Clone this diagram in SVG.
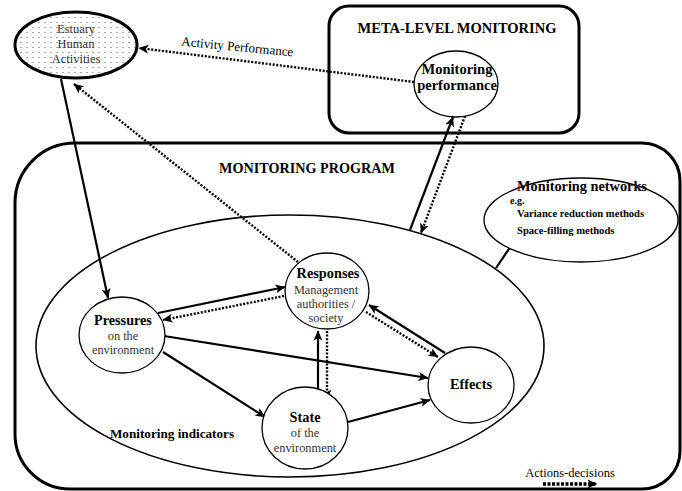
<svg xmlns="http://www.w3.org/2000/svg" width="682" height="491" viewBox="0 0 682 491">
<style>
text{font-family:"Liberation Serif","Times New Roman",serif;fill:#000}
.b{font-weight:bold}
.g{fill:#333}
.node{fill:#fff;stroke:#000;stroke-width:1.3}
.box{fill:none;stroke:#000;stroke-width:3}
.sol{fill:none;stroke:#000;stroke-width:2.2}
.dot{fill:none;stroke:#000;stroke-width:2.4;stroke-dasharray:2 1.6}
</style>
<defs>
<marker id="ah" viewBox="0 0 10 10" refX="9.5" refY="5" markerWidth="10" markerHeight="10" orient="auto" markerUnits="userSpaceOnUse">
<path d="M0,0.5 L10,5 L0,9.5 L2.5,5 Z" fill="#000" stroke="none"/>
</marker>
<pattern id="dots" width="6" height="5" patternUnits="userSpaceOnUse">
<rect width="6" height="5" fill="#fff"/>
<circle cx="3" cy="2.5" r="0.55" fill="#333"/>
</pattern>
</defs>

<g id="meta-box">
<rect class="box" x="329" y="6" width="250" height="127" rx="20"/>
<text class="b" x="457" y="33" font-size="14.5" text-anchor="middle">META-LEVEL MONITORING</text>
</g>

<g id="program-box">
<path class="box" d="M75,143 H642 A38,38 0 0 1 680,181 V451 A38,38 0 0 1 642,489 H70 A55,55 0 0 1 15,434 V203 A60,60 0 0 1 75,143 Z"/>
<text class="b" x="307" y="173" font-size="14.2" text-anchor="middle">MONITORING PROGRAM</text>
</g>

<g id="indicators">
<ellipse cx="290" cy="346" rx="254" ry="131" fill="none" stroke="#000" stroke-width="1.6"/>
<text class="b" x="172" y="438" font-size="13.2" text-anchor="middle">Monitoring indicators</text>
</g>

<g id="connectors">
<line class="dot" x1="414" y1="82" x2="139" y2="48" marker-end="url(#ah)"/>
<line class="dot" x1="298" y1="262" x2="74" y2="84" marker-end="url(#ah)"/>
<line class="sol" x1="61" y1="79" x2="108" y2="298" marker-end="url(#ah)"/>
<line class="sol" x1="410" y1="230" x2="453" y2="117" marker-end="url(#ah)"/>
<line class="dot" x1="465" y1="116" x2="421" y2="233" marker-end="url(#ah)"/>
<line class="sol" x1="496" y1="268" x2="511" y2="246" stroke-width="2.6"/>
<line class="sol" x1="158" y1="313" x2="285" y2="287" marker-end="url(#ah)"/>
<line class="dot" x1="284" y1="296" x2="163" y2="320" marker-end="url(#ah)"/>
<line class="sol" x1="164" y1="336" x2="428" y2="378" marker-end="url(#ah)"/>
<line class="sol" x1="163" y1="352" x2="265" y2="417" marker-end="url(#ah)"/>
<line class="sol" x1="318" y1="396" x2="318" y2="331" marker-end="url(#ah)"/>
<line class="dot" x1="327" y1="331" x2="327" y2="399" stroke-width="3" marker-end="url(#ah)"/>
<line class="sol" x1="348" y1="422" x2="430" y2="400" marker-end="url(#ah)"/>
<line class="sol" x1="445" y1="353" x2="369" y2="305" marker-end="url(#ah)"/>
<line class="dot" x1="366" y1="312" x2="438" y2="357" marker-end="url(#ah)"/>
</g>

<text x="237" y="51" font-size="13" text-anchor="middle" transform="rotate(5.5 237 51)">Activity Performance</text>

<g id="estuary">
<ellipse cx="76" cy="45" rx="61" ry="33" fill="url(#dots)" stroke="#000" stroke-width="3"/>
<text class="g" x="76" y="33" font-size="12.5" text-anchor="middle">Estuary</text>
<text class="g" x="76" y="48" font-size="12.5" text-anchor="middle">Human</text>
<text class="g" x="76" y="63" font-size="12.5" text-anchor="middle">Activities</text>
</g>

<g id="monitoring-performance">
<ellipse class="node" cx="456" cy="84" rx="42" ry="33"/>
<text class="b" x="457" y="74" font-size="14.5" text-anchor="middle">Monitoring</text>
<text class="b" x="457" y="90" font-size="14.5" text-anchor="middle">performance</text>
</g>

<g id="monitoring-networks">
<ellipse class="node" cx="581" cy="220" rx="97" ry="42"/>
<text class="b" x="582" y="191" font-size="14.3" text-anchor="middle">Monitoring networks</text>
<text class="b" x="510" y="204" font-size="10">e.g.</text>
<text class="b" x="517" y="217" font-size="10.6">Variance reduction methods</text>
<text class="b" x="517" y="234" font-size="10.6">Space-filling methods</text>
</g>

<g id="pressures">
<ellipse class="node" cx="122" cy="335" rx="43" ry="38"/>
<text class="b" x="123" y="325" font-size="14.2" text-anchor="middle">Pressures</text>
<text class="g" x="123" y="340" font-size="12.3" text-anchor="middle">on the</text>
<text class="g" x="123" y="354" font-size="12.3" text-anchor="middle">environment</text>
</g>

<g id="responses">
<ellipse class="node" cx="327" cy="291" rx="42" ry="38"/>
<text class="b" x="328" y="278" font-size="14.3" text-anchor="middle">Responses</text>
<text class="g" x="326" y="294" font-size="12.3" text-anchor="middle">Management</text>
<text class="g" x="326" y="308" font-size="12.3" text-anchor="middle">authorities /</text>
<text class="g" x="326" y="322" font-size="12.3" text-anchor="middle">society</text>
</g>

<g id="state">
<ellipse class="node" cx="305" cy="428" rx="43" ry="41"/>
<text class="b" x="305" y="422" font-size="14.3" text-anchor="middle">State</text>
<text class="g" x="305" y="437" font-size="12.4" text-anchor="middle">of the</text>
<text class="g" x="305" y="452" font-size="12.4" text-anchor="middle">environment</text>
</g>

<g id="effects">
<ellipse class="node" cx="471" cy="385" rx="43" ry="38"/>
<text class="b" x="471" y="389" font-size="14.3" text-anchor="middle">Effects</text>
</g>

<g id="legend">
<text x="570" y="477" font-size="12.5" text-anchor="middle">Actions-decisions</text>
<line x1="543" y1="484" x2="597" y2="484" stroke="#000" stroke-width="3.5" stroke-dasharray="3 1.5" marker-end="url(#ah)"/>
</g>
</svg>
